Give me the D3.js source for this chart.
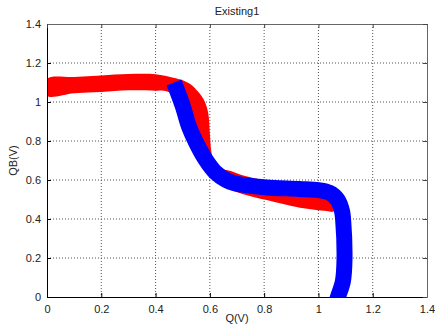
<!DOCTYPE html>
<html>
<head>
<meta charset="utf-8">
<script src="https://cdn.jsdelivr.net/npm/d3@7"></script>
<style>
  body { margin: 0; background: #fff; }
  text { font-family: "Liberation Sans", Arial, sans-serif; font-size: 11px; fill: #222; }
</style>
</head>
<body>
<div id="chart"></div>
<script>
const xTicks = [0, 0.2, 0.4, 0.6, 0.8, 1, 1.2, 1.4];
const yTicks = [0, 0.2, 0.4, 0.6, 0.8, 1, 1.2, 1.4];

// red band: upper edge left -> right, then lower edge right -> left
const redUpperQ  = [0, 0.1, 0.2, 0.3, 0.4, 0.465, 0.5, 0.53, 0.551, 0.57, 0.582, 0.594, 0.6, 0.605, 0.615, 0.64, 0.68, 0.72, 0.8, 0.95, 1.04, 1.07];
const redUpperQB = [1.118, 1.128, 1.136, 1.143, 1.142, 1.125, 1.112, 1.09, 1.062, 1.03, 1.0, 0.943, 0.84, 0.75, 0.69, 0.66, 0.645, 0.625, 0.6, 0.585, 0.56, 0.52];
const redLowerQ  = [1.065, 1.055, 1.03, 0.932, 0.809, 0.723, 0.66, 0.62, 0.58, 0.54, 0.51, 0.48, 0.44, 0.4, 0.3, 0.2, 0.1, 0];
const redLowerQB = [0.46, 0.438, 0.441, 0.458, 0.497, 0.527, 0.56, 0.6, 0.68, 0.8, 0.92, 1.02, 1.055, 1.058, 1.06, 1.051, 1.045, 1.032];

// blue curve (centre line)
const blueQ  = [0.468, 0.5, 0.523, 0.55, 0.585, 0.62, 0.66, 0.686, 0.75, 0.809, 0.93, 1.0, 1.04, 1.07, 1.087, 1.091, 1.096, 1.09, 1.072, 1.066];
const blueQB = [1.10, 0.98, 0.874, 0.79, 0.703, 0.64, 0.60, 0.585, 0.57, 0.562, 0.554, 0.548, 0.535, 0.50, 0.44, 0.395, 0.19, 0.08, 0.0, -0.03];

const W = 435, H = 328;
const margin = { top: 24, right: 8, bottom: 31, left: 47 };
const width = W - margin.left - margin.right;
const height = H - margin.top - margin.bottom;

const svg = d3.select('#chart').append('svg')
  .attr('width', W).attr('height', H);

const g = svg.append('g')
  .attr('transform', `translate(${margin.left},${margin.top})`);

const x = d3.scaleLinear().domain([0, 1.4]).range([0, width]);
const y = d3.scaleLinear().domain([0, 1.4]).range([height, 0]);

// Grid
g.append('g').selectAll('line').data(xTicks.slice(1, -1)).enter().append('line')
  .attr('x1', d => x(d)).attr('x2', d => x(d))
  .attr('y1', 0).attr('y2', height)
  .attr('stroke', '#555').attr('stroke-dasharray', '1,2');
g.append('g').selectAll('line').data(yTicks.slice(1, -1)).enter().append('line')
  .attr('y1', d => y(d)).attr('y2', d => y(d))
  .attr('x1', 0).attr('x2', width)
  .attr('stroke', '#555').attr('stroke-dasharray', '1,2');

// Curves
g.append('clipPath').attr('id', 'clip')
  .append('rect').attr('width', width).attr('height', height);

const plot = g.append('g').attr('clip-path', 'url(#clip)');

const redPts = redUpperQ.map((q, i) => [q, redUpperQB[i]])
  .concat(redLowerQ.map((q, i) => [q, redLowerQB[i]]));

plot.append('path')
  .datum(redPts)
  .attr('fill', '#ff0000')
  .attr('d', d3.line().x(d => x(d[0])).y(d => y(d[1])).curve(d3.curveCatmullRomClosed));

const bluePts = blueQ.map((q, i) => [q, blueQB[i]]);
plot.append('path')
  .datum(bluePts)
  .attr('fill', 'none')
  .attr('stroke', '#0000ff')
  .attr('stroke-width', 16)
  .attr('d', d3.line().x(d => x(d[0])).y(d => y(d[1])).curve(d3.curveCatmullRom));

// Axes (MATLAB style, ticks inside, box)
const fmt = d => d3.format('~g')(d);

g.append('g')
  .attr('transform', `translate(0,${height})`)
  .call(d3.axisBottom(x).tickValues(xTicks).tickSizeInner(-4).tickSizeOuter(0).tickPadding(8).tickFormat(fmt))
  .call(a => a.select('.domain').attr('stroke', '#000'))
  .call(a => a.selectAll('text').style('font-family', '"Liberation Sans", Arial, sans-serif').style('font-size', '11px').attr('fill', '#222'));

g.append('g')
  .call(d3.axisLeft(y).tickValues(yTicks).tickSizeInner(-4).tickSizeOuter(0).tickPadding(6).tickFormat(fmt))
  .call(a => a.select('.domain').attr('stroke', '#000'))
  .call(a => a.selectAll('text').style('font-family', '"Liberation Sans", Arial, sans-serif').style('font-size', '11px').attr('fill', '#222'));

g.append('g')
  .call(d3.axisTop(x).tickValues(xTicks).tickSizeInner(-4).tickSizeOuter(0).tickFormat(''))
  .call(a => a.select('.domain').attr('stroke', '#666'))
  .call(a => a.selectAll('.tick line').attr('stroke', '#444'));

g.append('g')
  .attr('transform', `translate(${width},0)`)
  .call(d3.axisRight(y).tickValues(yTicks).tickSizeInner(-4).tickSizeOuter(0).tickFormat(''))
  .call(a => a.select('.domain').attr('stroke', '#666'))
  .call(a => a.selectAll('.tick line').attr('stroke', '#444'));

// Labels
svg.append('text')
  .attr('x', margin.left + width / 2).attr('y', 15)
  .attr('text-anchor', 'middle')
  .text('Existing1');

svg.append('text')
  .attr('x', margin.left + width / 2).attr('y', 322)
  .attr('text-anchor', 'middle')
  .text('Q(V)');

svg.append('text')
  .attr('transform', `translate(17,${margin.top + height / 2}) rotate(-90)`)
  .attr('text-anchor', 'middle')
  .text('QB(V)');
</script>
</body>
</html>
